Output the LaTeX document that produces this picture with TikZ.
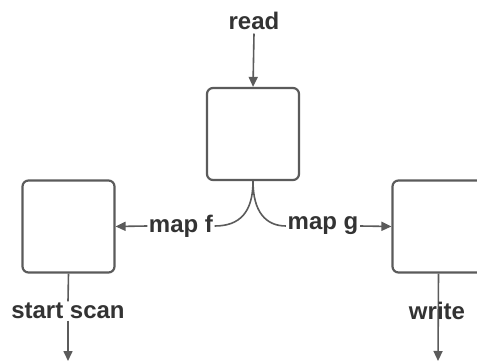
\documentclass[tikz,border=0pt]{standalone}
\usepackage{fontspec}
\setmainfont{Liberation Sans}
\usetikzlibrary{arrows.meta}
\definecolor{linegray}{HTML}{5B5B5B}
\definecolor{textgray}{HTML}{333333}
\begin{document}
\begin{tikzpicture}[x=1pt,y=-1pt,
  block/.style={draw=linegray, line width=2.2pt, rounded corners=6pt, fill=white,
    minimum width=92pt, minimum height=92pt, inner sep=0pt},
  lbl/.style={font=\fontsize{24}{27}\selectfont\bfseries, text=textgray, inner sep=1.5pt},
  wire/.style={draw=linegray, line width=1.6pt},
  arr/.style={wire, -{Triangle[length=10pt,width=9pt]}}]
\useasboundingbox (0,0) rectangle (477,361);
\clip (0,0) rectangle (477,361);

% the three blocks
\node[block] (top)   at (253,134) {};
\node[block] (left)  at (68.5,226.5) {};
\node[block] (right) at (438.5,226.5) {};

% labels
\node[lbl] (read)  at (254,21)  {read};
\node[lbl] (mapf)  at (181,226) {map f};
\node[lbl] (mapg)  at (323,226) {map g};
\node[lbl] (scan)  at (68,311)  {start scan};
\coordinate (scanend)  at (68,361);
\coordinate (writeend) at (438,361);

% read input
\draw[arr] (read.south) ++(0,2) -- (top.north);

% split into the two maps
\draw[wire] (top.south) .. controls (253,212) and (240,226) .. (mapf.east);
\draw[wire] (top.south) .. controls (253,212) and (266,226) .. (mapg.west);
\draw[arr] (mapf.west) -- (left.east);
\draw[arr] (mapg.east) -- (right.west);

% outputs
\draw[wire] (left.south) -- (scan.north);
\draw[arr] (scan.south) -- (scanend);
\draw[arr] (right.south) -- (writeend);
\node[lbl] (write) at (437,311) {write};
\end{tikzpicture}
\end{document}
